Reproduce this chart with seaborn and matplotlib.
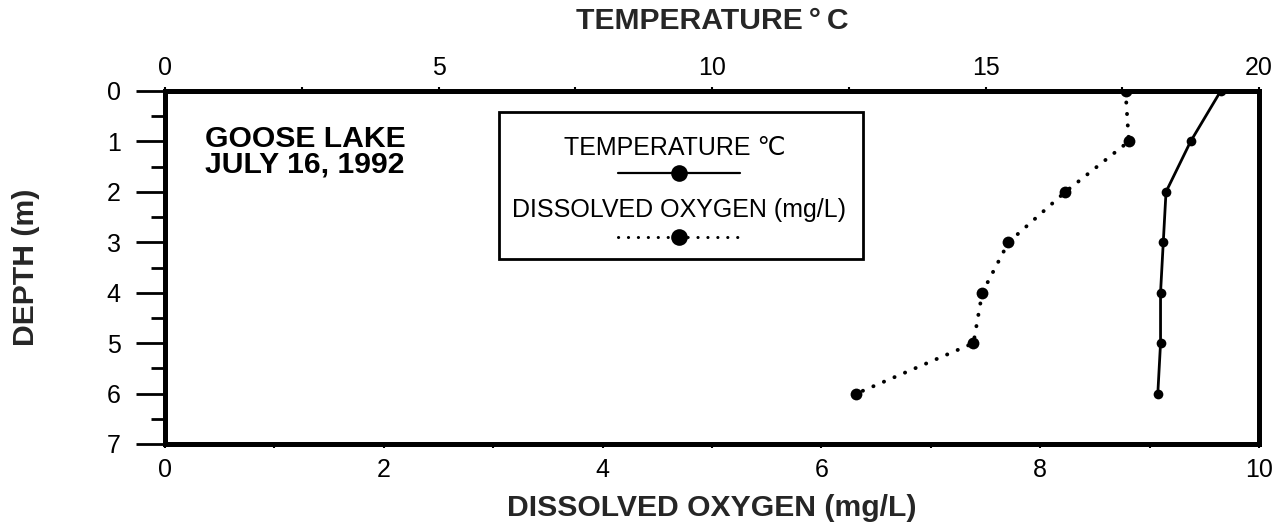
import numpy as np
import pandas as pd
import matplotlib
matplotlib.use("Agg")
import matplotlib.pyplot as plt
import seaborn as sns
from matplotlib.patches import Rectangle
from matplotlib.lines import Line2D
from matplotlib.ticker import MultipleLocator, FixedLocator

# ---- data ----
depth_m = [0, 1, 2, 3, 4, 5, 6]
temperature_c = [19.3, 18.75, 18.3, 18.25, 18.2, 18.2, 18.15]
dissolved_oxygen = [8.78, 8.81, 8.23, 7.71, 7.47, 7.39, 6.32]

do_ticks = [0, 2, 4, 6, 8, 10]
temp_ticks = [0, 5, 10, 15, 20]
depth_ticks = [0, 1, 2, 3, 4, 5, 6, 7]

site_label = "GOOSE LAKE\nJULY 16, 1992"
legend_temp = "TEMPERATURE \u2103"
legend_do = "DISSOLVED OXYGEN (mg/L)"
xlabel_bottom = "DISSOLVED OXYGEN (mg/L)"
xlabel_top = "TEMPERATURE\u2009\u00b0\u2009C"
ylabel = "DEPTH (m)"

sns.set_theme(style="white")
plt.rcParams['font.family'] = ['Liberation Sans', 'DejaVu Sans']
plt.rcParams['axes.edgecolor'] = 'black'
plt.rcParams['xtick.color'] = 'black'
plt.rcParams['ytick.color'] = 'black'
plt.rcParams['text.color'] = 'black'

fig = plt.figure(figsize=(12.85, 5.31), dpi=100)
ax = fig.add_axes([165 / 1285, 1 - 444 / 531, 1094 / 1285, 353 / 531])
ax_top = ax.twiny()

df = pd.DataFrame({"depth": depth_m, "temp": temperature_c, "do": dissolved_oxygen})

sns.lineplot(data=df, x="do", y="depth", orient="y", sort=False, errorbar=None,
             ax=ax, color="black", linewidth=2.8, linestyle=(0, (0.05, 2.9)),
             dash_capstyle="round", marker="o", markersize=8.5, markeredgewidth=0)
sns.lineplot(data=df, x="temp", y="depth", orient="y", sort=False, errorbar=None,
             ax=ax_top, color="black", linewidth=2.0, marker="o", markersize=7,
             markeredgewidth=0)

ax.set_xlim(0, 10)
ax_top.set_xlim(0, 20)
ax.set_ylim(7, 0)

ax.xaxis.set_major_locator(FixedLocator(do_ticks))
ax.xaxis.set_minor_locator(MultipleLocator(1))
ax_top.xaxis.set_major_locator(FixedLocator(temp_ticks))
ax_top.xaxis.set_minor_locator(MultipleLocator(2.5))
ax.yaxis.set_major_locator(FixedLocator(depth_ticks))
ax.yaxis.set_minor_locator(MultipleLocator(0.5))

fs = 18
ax.tick_params(axis="y", which="major", direction="out", length=21, width=2,
               labelsize=fs, pad=11, left=True)
ax.tick_params(axis="y", which="minor", direction="out", length=10, width=2, left=True)
ax.tick_params(axis="x", which="both", direction="out", length=3, width=1.5,
               labelsize=fs, pad=7, bottom=True)
ax_top.tick_params(axis="x", which="both", direction="out", length=3, width=1.5,
                   labelsize=fs, pad=5, top=True)

for a in (ax, ax_top):
    for s in a.spines.values():
        s.set_linewidth(3.5)
        s.set_color("black")

bfs = 21.7
ax.set_xlabel(xlabel_bottom, fontsize=bfs, fontweight="bold", labelpad=9)
ax_top.set_xlabel(xlabel_top, fontsize=bfs, fontweight="bold", labelpad=19)
ax.set_ylabel(ylabel, fontsize=bfs, fontweight="bold")
ax.yaxis.set_label_coords(-0.114, 0.5)
ax_top.set_ylabel("")

# site annotation
ax.text(0.037, 0.905, site_label, transform=ax.transAxes, fontsize=bfs,
        fontweight="bold", va="top", ha="left", linespacing=0.9)

# legend box (label above sample, centred)
ax.add_patch(Rectangle((0.305, 0.524), 0.333, 0.416, transform=ax.transAxes,
                       fill=False, edgecolor="black", linewidth=2, zorder=5))
ax.text(0.466, 0.838, legend_temp, transform=ax.transAxes, fontsize=18,
        ha="center", va="center")
ax.add_line(Line2D([0.414, 0.526], [0.768, 0.768], transform=ax.transAxes,
                   color="black", linewidth=1.6))
ax.add_line(Line2D([0.47], [0.768], transform=ax.transAxes, color="black",
                   marker="o", markersize=12, markeredgewidth=0))
ax.text(0.470, 0.664, legend_do, transform=ax.transAxes, fontsize=18,
        ha="center", va="center")
ax.add_line(Line2D([0.414, 0.526], [0.586, 0.586], transform=ax.transAxes,
                   color="black", linewidth=2.2, linestyle=(0, (0.05, 3.2)),
                   dash_capstyle="round"))
ax.add_line(Line2D([0.47], [0.586], transform=ax.transAxes, color="black",
                   marker="o", markersize=12, markeredgewidth=0))

fig.savefig("out.png", dpi=100)
